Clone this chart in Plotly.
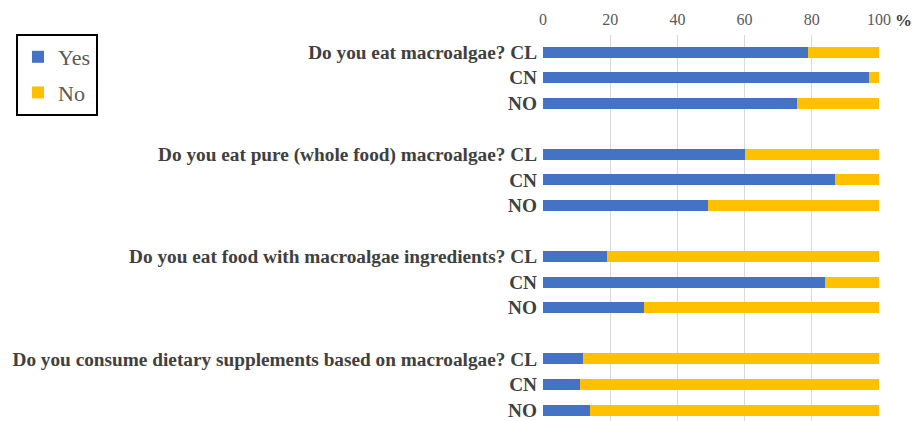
import plotly.graph_objects as go

questions = [
    "Do you eat macroalgae?",
    "Do you eat pure (whole food) macroalgae?",
    "Do you eat food with macroalgae ingredients?",
    "Do you consume dietary supplements based on macroalgae?",
]
countries = ["CL", "CN", "NO"]

# Share of respondents answering "Yes" (%), per question, in country order CL, CN, NO
yes_pct = [
    [79, 97, 75.5],
    [60, 87, 49],
    [19, 84, 30],
    [12, 11, 14],
]

x_ticks = [0, 20, 40, 60, 80, 100]

BLUE = "#4472C4"
GOLD = "#FFC000"
SERIF = "Times New Roman, Liberation Serif, serif"

# one row per question/country pair, with a blank row between question blocks
positions, labels, yes_vals, no_vals = [], [], [], []
for qi, q in enumerate(questions):
    for ci, c in enumerate(countries):
        positions.append(qi * 4 + ci)
        labels.append(f"{q} {c}" if ci == 0 else c)
        yes_vals.append(yes_pct[qi][ci])
        no_vals.append(100 - yes_pct[qi][ci])

fig = go.Figure()
fig.add_trace(go.Bar(
    y=positions, x=yes_vals, orientation="h", name="Yes",
    marker=dict(color=BLUE, line=dict(width=0)), width=0.43,
    legendgroup="a",
))
fig.add_trace(go.Bar(
    y=positions, x=no_vals, orientation="h", name="No",
    marker=dict(color=GOLD, line=dict(width=0)), width=0.43,
    legendgroup="b",
))

fig.update_layout(
    barmode="stack",
    width=912, height=421,
    margin=dict(l=543, r=33, t=35, b=0, pad=0, autoexpand=False),
    plot_bgcolor="white", paper_bgcolor="white",
    font=dict(family=SERIF, color="#595959"),
    showlegend=True,
    legend=dict(
        x=16 / 912, y=1 - 34 / 421, xref="container", yref="container",
        xanchor="left", yanchor="top",
        bordercolor="black", borderwidth=2,
        font=dict(family=SERIF, size=22, color="#595959"),
        traceorder="grouped", tracegroupgap=4,
        itemwidth=30,
    ),
    xaxis=dict(
        side="top", range=[0, 100], tickvals=x_ticks,
        showgrid=True, gridcolor="#d9d9d9", gridwidth=1,
        zeroline=False, showline=False, ticks="",
        automargin=False, ticklabelstandoff=6,
        tickfont=dict(family=SERIF, size=16, color="#595959"),
        fixedrange=True,
    ),
    yaxis=dict(
        range=[14.43, -0.665], tickmode="array",
        tickvals=positions, ticktext=labels,
        showgrid=False, zeroline=False, showline=False, ticks="",
        automargin=False, ticklabeloverflow="allow",
        ticklabelstandoff=5,
        tickfont=dict(family=SERIF, size=19.3, color="#404040", weight="bold"),
    ),
)

fig.add_annotation(
    x=100, y=1, xref="x", yref="paper", text="%",
    showarrow=False, xanchor="left", yanchor="bottom", xshift=14, yshift=3,
    font=dict(family=SERIF, size=17, color="#404040", weight="bold"),
)

fig.write_html("out.html")
